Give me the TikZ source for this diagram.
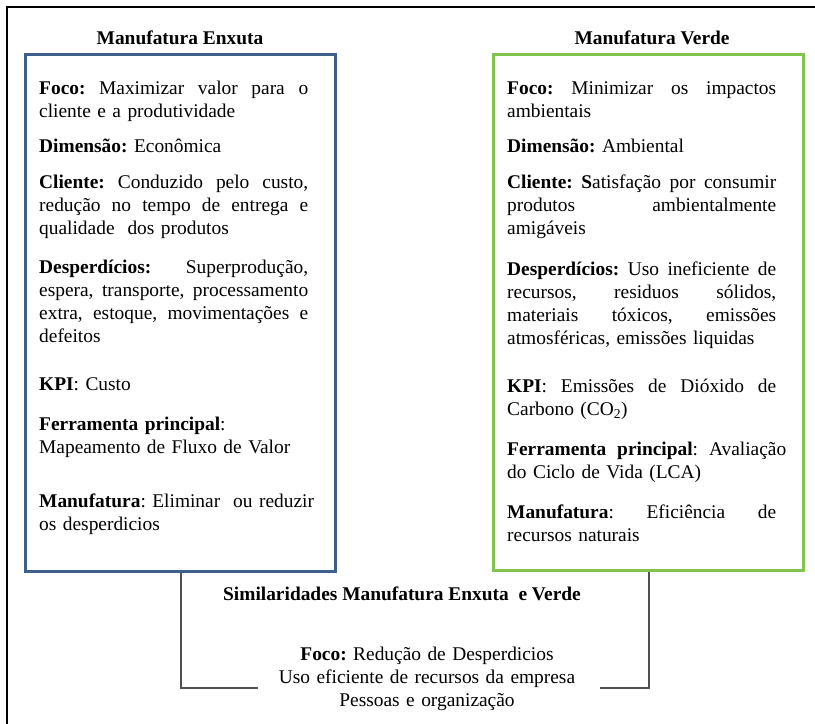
\documentclass[tikz,border=0pt]{standalone}
\usepackage{fontspec}
\setmainfont{Liberation Serif}
\frenchspacing
\definecolor{enxutablue}{HTML}{3D5F8C}
\definecolor{verdegreen}{HTML}{82C34E}
\definecolor{bracketgray}{HTML}{505050}
% a justified line: every interword space stretches by the same amount
\newcommand{\jline}[2][269bp]{\leavevmode{\spaceskip=0.25em plus 1fil\relax\xspaceskip=\spaceskip\hbox to #1{#2}}}
\tikzset{
  basefont/.style={font=\fontsize{19.4bp}{23bp}\selectfont},
  heading/.style={inner sep=0pt, anchor=base, font=\fontsize{19.4bp}{23bp}\selectfont\bfseries},
  para/.style={basefont, inner sep=0pt, anchor=base west, text width=269bp, align=left},
  panel/.style={draw, line width=3bp, inner sep=0pt},
  enxutapanel/.style={panel, draw=enxutablue},
  verdepanel/.style={panel, draw=verdegreen},
  bracket/.style={draw=bracketgray, line width=1.6bp},
  frameline/.style={draw=black, line width=2bp}
}
\begin{document}
\begin{tikzpicture}[x=1bp,y=-1bp]
\useasboundingbox (0,0) rectangle (815,724);

% outer frame (top and left edges)
\coordinate (frameTL) at (7,7);
\coordinate (frameTR) at (815,7);
\coordinate (frameBL) at (7,724);
\draw[frameline] (frameTR) -- (frameTL) -- (frameBL);

% the two panels
\node[enxutapanel, minimum width=309bp, minimum height=516.5bp] (enxuta) at (180.5,313.25) {};
\node[verdepanel, minimum width=310bp, minimum height=515bp] (verde) at (648,312.5) {};

% panel headings
\node[heading] (enxutaTitle) at (180,45) {Manufatura Enxuta};
\node[heading] (verdeTitle) at (652,45) {Manufatura Verde};

% Manufatura Enxuta
\node[para] (eFoco) at (39,95) {\jline{\textbf{Foco:} Maximizar valor para o}\\cliente e a produtividade};
\node[para] (eDim) at (39,153) {\textbf{Dimensão:} Econômica};
\node[para] (eCli) at (39,188) {\jline{\textbf{Cliente:} Conduzido pelo custo,}\\\jline{redução no tempo de entrega e}\\qualidade\ \ dos produtos};
\node[para] (eDesp) at (39,273) {\jline{\textbf{Desperdícios:} Superprodução,}\\\jline{espera, transporte, processamento}\\\jline{extra, estoque, movimentações e}\\defeitos};
\node[para] (eKpi) at (39,390) {\textbf{KPI}: Custo};
\node[para] (eFer) at (39,430) {\textbf{Ferramenta principal}:\\Mapeamento de Fluxo de Valor};
\node[para] (eMan) at (39,507) {\mbox{\textbf{Manufatura}: Eliminar\ \ ou reduzir}\\os desperdicios};

% Manufatura Verde
\node[para] (vFoco) at (507,95) {\jline{\textbf{Foco:} Minimizar os impactos}\\ambientais};
\node[para] (vDim) at (507,153) {\textbf{Dimensão:} Ambiental};
\node[para] (vCli) at (507,188) {\jline{\textbf{Cliente: S}atisfação por consumir}\\\jline{produtos ambientalmente}\\amigáveis};
\node[para] (vDesp) at (507,275) {\jline{\textbf{Desperdícios:} Uso ineficiente de}\\\jline{recursos, residuos sólidos,}\\\jline{materiais tóxicos, emissões}\\atmosféricas, emissões liquidas};
\node[para] (vKpi) at (507,392) {\jline{\textbf{KPI}: Emissões de Dióxido de}\\Carbono (CO\textsubscript{2})};
\node[para] (vFer) at (507,455) {\jline[279bp]{\textbf{Ferramenta principal}: Avaliação}\\do Ciclo de Vida (LCA)};
\node[para] (vMan) at (507,518) {\jline{\textbf{Manufatura}: Eficiência de}\\recursos naturais};

% similarities
\node[heading] (simTitle) at (402,600) {Similaridades Manufatura Enxuta\ \ e Verde};
\node[basefont, inner sep=0pt, anchor=base, text width=360bp, align=center] (simBody) at (427,660)
  {\textbf{Foco:} Redução de Desperdicios\\Uso eficiente de recursos da empresa\\Pessoas e organização};

% bracket joining both panels to the similarities
\coordinate (lCorner) at (181,688);
\coordinate (lEnd) at (258,688);
\coordinate (rCorner) at (649,688);
\coordinate (rEnd) at (600,688);
\draw[bracket] (enxuta.south -| lCorner) -- (lCorner) -- (lEnd);
\draw[bracket] (verde.south -| rCorner) -- (rCorner) -- (rEnd);
\end{tikzpicture}
\end{document}
